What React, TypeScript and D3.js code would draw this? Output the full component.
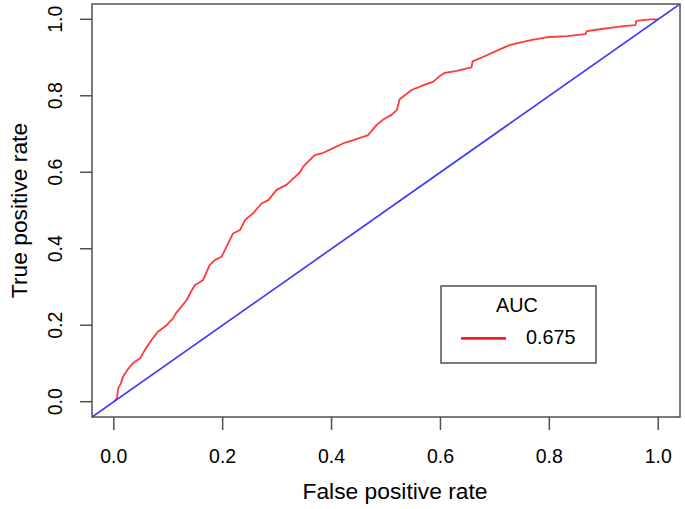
import React from "react";
import * as d3 from "d3";

const fpr = [0, 0.006, 0.008, 0.013, 0.017, 0.025, 0.032, 0.04, 0.048, 0.057, 0.069, 0.081, 0.097, 0.109, 0.114, 0.124, 0.134, 0.14, 0.149, 0.155, 0.164, 0.176, 0.186, 0.198, 0.207, 0.219, 0.232, 0.241, 0.256, 0.272, 0.284, 0.299, 0.317, 0.333, 0.342, 0.348, 0.357, 0.363, 0.369, 0.385, 0.403, 0.422, 0.44, 0.467, 0.483, 0.495, 0.51, 0.52, 0.525, 0.535, 0.547, 0.569, 0.587, 0.599, 0.608, 0.63, 0.657, 0.659, 0.679, 0.707, 0.728, 0.746, 0.768, 0.795, 0.832, 0.866, 0.869, 0.893, 0.915, 0.936, 0.958, 0.96, 0.985, 1.0];
const tpr = [0, 0.009, 0.035, 0.048, 0.065, 0.083, 0.096, 0.106, 0.113, 0.135, 0.161, 0.183, 0.2, 0.218, 0.231, 0.248, 0.266, 0.283, 0.305, 0.31, 0.318, 0.357, 0.371, 0.379, 0.405, 0.44, 0.449, 0.475, 0.493, 0.519, 0.527, 0.554, 0.567, 0.588, 0.6, 0.615, 0.628, 0.636, 0.645, 0.651, 0.663, 0.676, 0.684, 0.697, 0.724, 0.738, 0.75, 0.763, 0.791, 0.802, 0.815, 0.828, 0.837, 0.852, 0.86, 0.865, 0.874, 0.89, 0.902, 0.92, 0.933, 0.939, 0.946, 0.953, 0.956, 0.961, 0.969, 0.974, 0.978, 0.982, 0.985, 0.996, 1.0, 1.0];
const xTicks = [0, 0.2, 0.4, 0.6, 0.8, 1.0];
const yTicks = [0, 0.2, 0.4, 0.6, 0.8, 1.0];
const xLabel = "False positive rate";
const yLabel = "True positive rate";
const legendTitle = "AUC";
const aucValue = "0.675";

const FONT = "'Liberation Sans', Arial, Helvetica, sans-serif";

export default function App() {
  const left = 92, right = 680, top = 4, bottom = 417;
  const x = d3.scaleLinear().domain([-0.04, 1.04]).range([left, right]);
  const y = d3.scaleLinear().domain([-0.04, 1.04]).range([bottom, top]);
  const pts: [number, number][] = fpr.map((f, i) => [f, tpr[i]]);
  const line = d3.line<[number, number]>().x((d) => x(d[0])).y((d) => y(d[1]));
  const diag = line([[-0.04, -0.04], [1.04, 1.04]]) || "";
  const fmt = d3.format(".1f");
  return (
    <svg width={685} height={509} style={{ position: "absolute", left: 0, top: 0, background: "#fff" }} fontFamily={FONT}>
      <rect x={0} y={0} width={685} height={509} fill="#fff" />
      <defs>
        <clipPath id="plotclip">
          <rect x={left} y={top} width={right - left} height={bottom - top} />
        </clipPath>
      </defs>
      <g clipPath="url(#plotclip)">
        <path d={line(pts) || ""} fill="none" stroke="#ff3a3a" strokeWidth={1.8} strokeLinejoin="round" />
        <path d={diag} fill="none" stroke="#3c3cf5" strokeWidth={1.7} />
      </g>
      <rect x={left} y={top} width={right - left} height={bottom - top} fill="none" stroke="#505050" strokeWidth={1.5} />
      {xTicks.map((t) => (
        <g key={"x" + t}>
          <line x1={x(t)} x2={x(t)} y1={bottom} y2={bottom + 13} stroke="#505050" strokeWidth={1.5} />
          <text x={x(t)} y={463} textAnchor="middle" fontSize={19.5} fill="#000">{fmt(t)}</text>
        </g>
      ))}
      {yTicks.map((t) => (
        <g key={"y" + t}>
          <line x1={left - 12} x2={left} y1={y(t)} y2={y(t)} stroke="#505050" strokeWidth={1.5} />
          <text transform={`translate(62,${y(t)}) rotate(-90)`} textAnchor="middle" fontSize={19.5} fill="#000">{fmt(t)}</text>
        </g>
      ))}
      <text x={395} y={499} textAnchor="middle" fontSize={22.8} fill="#000">{xLabel}</text>
      <text transform={`translate(27,${(top + bottom) / 2}) rotate(-90)`} textAnchor="middle" fontSize={22.8} fill="#000">{yLabel}</text>
      <g>
        <rect x={441} y={286} width={155} height={77} fill="#fff" stroke="#505050" strokeWidth={1.5} />
        <text x={517} y={311.5} textAnchor="middle" fontSize={19.8} fill="#000">{legendTitle}</text>
        <line x1={461} x2={506} y1={338.3} y2={338.3} stroke="#ff1a1a" strokeWidth={2.8} />
        <text x={526} y={344} fontSize={19.8} fill="#000">{aucValue}</text>
      </g>
    </svg>
  );
}
